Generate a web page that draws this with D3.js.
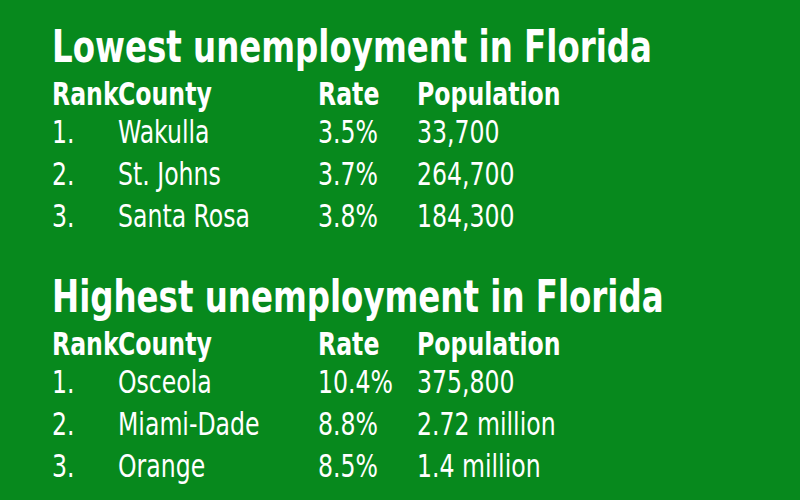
<!DOCTYPE html>
<html><head><meta charset="utf-8">
<script src="https://cdn.jsdelivr.net/npm/d3@7"></script>
<style>body{margin:0;background:#07891d}</style></head>
<body><script>
const titles=["Lowest unemployment in Florida","Highest unemployment in Florida"];
const headers=["Rank","County","Rate","Population"];
const lowRows=[["1.","Wakulla","3.5%","33,700"],["2.","St. Johns","3.7%","264,700"],["3.","Santa Rosa","3.8%","184,300"]];
const highRows=[["1.","Osceola","10.4%","375,800"],["2.","Miami-Dade","8.8%","2.72 million"],["3.","Orange","8.5%","1.4 million"]];
const svg=d3.select("body").append("svg").attr("width",800).attr("height",500);
svg.append("rect").attr("width",800).attr("height",500).attr("fill","#07891d");
const colX=d3.scaleOrdinal().domain(headers).range([52,118,318,417]);
const font="'DejaVu Sans Condensed','DejaVu Sans',sans-serif";
const sx=0.82;
function txt(x,y,s,size,bold){
  svg.append("text").attr("transform",`translate(${x},${y}) scale(${sx},1)`).attr("fill","#fff")
    .attr("font-family",font).attr("font-weight",bold?"bold":"normal").attr("font-size",size).text(s);
}
function block(title,rows,y0){
  txt(52,y0,title,44,true);
  headers.forEach(h=>txt(colX(h),y0+43,h,32,true));
  rows.forEach((r,i)=>r.forEach((c,j)=>txt(colX(headers[j]),y0+81+i*42,c,32,false)));
}
block(titles[0],lowRows,62);
block(titles[1],highRows,312);
</script></body></html>
